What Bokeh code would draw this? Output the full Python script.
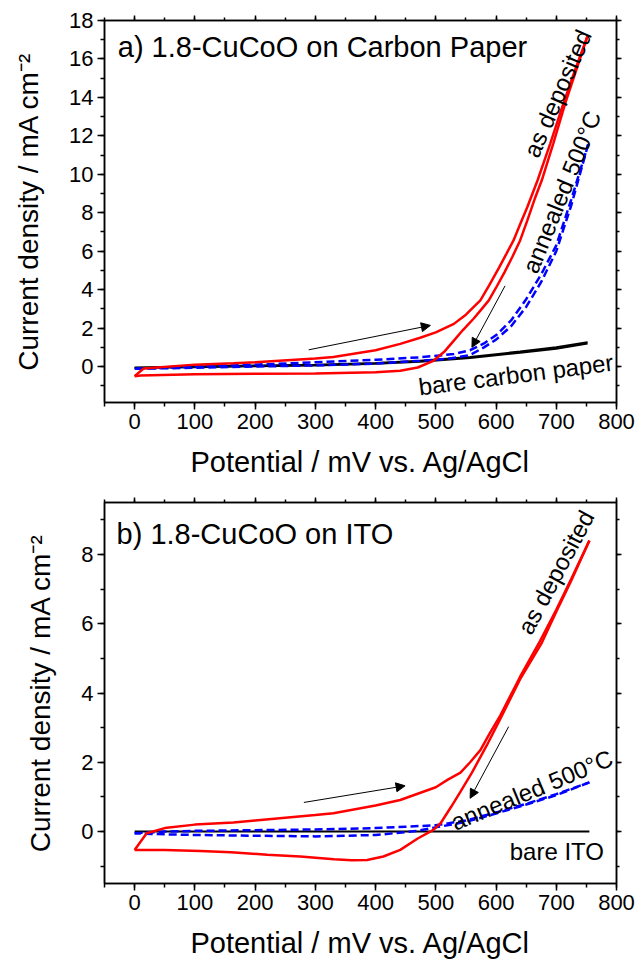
from bokeh.plotting import figure
from bokeh.models import Range1d, LinearAxis, SingleIntervalTicker, Arrow, NormalHead
from bokeh.layouts import column
from bokeh.embed import file_html
from bokeh.resources import INLINE
from bokeh.core.properties import value
import math

FONT = "Liberation Sans"

# ---------------- data: panel a (carbon paper) ----------------
a_red_fwd_x = [0, 15, 100, 164, 200, 300, 330, 400, 441, 474, 500, 530, 550, 574, 590, 605, 617, 629, 640, 652, 669, 690, 712, 732, 752]
a_red_fwd_y = [-0.5, -0.1, 0.1, 0.17, 0.22, 0.42, 0.5, 0.85, 1.18, 1.5, 1.78, 2.22, 2.7, 3.44, 4.3, 5.15, 5.85, 6.56, 7.4, 8.3, 9.69, 11.6, 13.7, 15.5, 17.2]
a_red_rev_x = [752, 734, 715, 695, 676, 664, 652, 640, 627, 614, 600, 588, 575, 563, 545, 530, 515, 496, 470, 441, 400, 300, 200, 100, 10, 0]
a_red_rev_y = [17.2, 15.5, 13.7, 11.6, 9.69, 8.7, 7.6, 6.56, 5.7, 4.9, 4.1, 3.44, 2.95, 2.5, 1.9, 1.35, 0.8, 0.3, -0.05, -0.22, -0.3, -0.36, -0.38, -0.4, -0.47, -0.5]

a_blue_fwd_x = [0, 100, 200, 300, 400, 474, 530, 557, 580, 601, 625, 650, 675, 700, 725, 753]
a_blue_fwd_y = [-0.12, 0.0, 0.1, 0.22, 0.35, 0.48, 0.65, 0.85, 1.2, 1.65, 2.4, 3.5, 4.8, 6.3, 8.7, 11.56]
a_blue_rev_x = [753, 725, 700, 675, 650, 625, 600, 580, 557, 520, 474, 400, 300, 200, 100, 0]
a_blue_rev_y = [11.56, 8.4, 6.0, 4.4, 3.1, 2.1, 1.4, 1.0, 0.6, 0.4, 0.3, 0.15, 0.06, 0.0, -0.06, -0.12]

a_black_fwd_x = [0, 100, 200, 300, 400, 474, 557, 640, 700, 752]
a_black_fwd_y = [-0.05, 0.0, 0.05, 0.1, 0.18, 0.3, 0.5, 0.78, 1.0, 1.27]
a_black_rev_x = [752, 700, 640, 557, 474, 400, 300, 200, 100, 0]
a_black_rev_y = [1.2, 0.93, 0.72, 0.45, 0.25, 0.14, 0.06, 0.02, -0.03, -0.08]

# ---------------- data: panel b (ITO) ----------------
b_red_fwd_x = [0, 20, 50, 100, 164, 200, 300, 330, 400, 441, 500, 520, 541, 557, 574, 590, 607, 640, 673, 700, 725, 755]
b_red_fwd_y = [-0.53, -0.05, 0.1, 0.2, 0.26, 0.32, 0.48, 0.53, 0.75, 0.91, 1.28, 1.5, 1.7, 2.0, 2.35, 2.85, 3.35, 4.47, 5.5, 6.4, 7.3, 8.4]
b_red_rev_x = [755, 725, 700, 676, 640, 607, 585, 560, 541, 525, 508, 496, 470, 441, 413, 386, 360, 331, 275, 220, 160, 109, 50, 0]
b_red_rev_y = [8.4, 7.25, 6.35, 5.45, 4.4, 3.25, 2.5, 1.7, 1.15, 0.7, 0.24, 0.05, -0.2, -0.53, -0.72, -0.82, -0.83, -0.8, -0.72, -0.67, -0.6, -0.56, -0.53, -0.53]

b_blue_fwd_x = [0, 50, 100, 200, 300, 400, 450, 500, 550, 600, 650, 700, 755]
b_blue_fwd_y = [-0.05, 0.0, 0.02, 0.04, 0.06, 0.1, 0.14, 0.18, 0.32, 0.55, 0.8, 1.08, 1.42]
b_blue_rev_x = [755, 700, 650, 600, 550, 500, 470, 430, 400, 300, 200, 100, 50, 0]
b_blue_rev_y = [1.42, 1.05, 0.78, 0.52, 0.28, 0.12, 0.02, -0.05, -0.1, -0.14, -0.12, -0.1, -0.08, -0.05]

b_black_x = [0, 755]
b_black_y = [0.0, 0.0]

# arrows (start x, start y, end x, end y)
a_arrows = [(289, 0.87, 491, 2.14), (615, 4.2, 560, 1.0)]
b_arrows = [(281, 0.84, 449, 1.32), (621, 3.03, 557, 0.96)]

X_TITLE = "Potential / mV vs. Ag/AgCl"
Y_TITLE = "Current density / mA cm\u207b\u00b2"


def make_fig(y0, y1, top_border, bottom_border, frame_h):
    p = figure(frame_width=512, frame_height=frame_h,
               x_range=Range1d(-50, 800), y_range=Range1d(y0, y1),
               output_backend="svg", toolbar_location=None,
               min_border_left=104, min_border_right=20,
               min_border_top=top_border, min_border_bottom=bottom_border,
               x_axis_type=None, y_axis_type=None)
    p.grid.visible = False
    p.outline_line_color = "black"
    p.outline_line_width = 1.5
    p.background_fill_color = "white"
    p.border_fill_color = "white"

    xt = SingleIntervalTicker(interval=100, num_minor_ticks=2)
    yt = SingleIntervalTicker(interval=2, num_minor_ticks=2)
    xa = LinearAxis(ticker=xt, axis_label=X_TITLE)
    ya = LinearAxis(ticker=yt, axis_label=Y_TITLE)
    xa2 = LinearAxis(ticker=xt)
    ya2 = LinearAxis(ticker=yt)
    for ax in (xa, ya, xa2, ya2):
        ax.axis_line_color = "black"
        ax.axis_line_width = 1.5
        ax.major_tick_line_width = 1.5
        ax.minor_tick_line_width = 1.5
        ax.major_tick_out = 7
        ax.major_tick_in = 0
        ax.minor_tick_out = 4
        ax.minor_tick_in = 0
        ax.major_label_text_font = FONT
        ax.major_label_text_font_size = "22px"
        ax.major_label_text_color = "black"
        ax.axis_label_text_font = FONT
        ax.axis_label_text_font_style = "normal"
        ax.axis_label_text_color = "black"
    xa.axis_label_text_font_size = "29px"
    ya.axis_label_text_font_size = "28px"
    for ax in (xa2, ya2):
        ax.major_label_text_font_size = "1px"
        ax.major_label_text_color = None
        ax.major_label_standoff = 0
        ax.major_tick_out = 5
        ax.minor_tick_out = 3
    xa.major_label_standoff = 4
    ya.major_label_standoff = 4
    xa.axis_label_standoff = 14
    ya.axis_label_standoff = 22
    p.add_layout(xa, "below")
    p.add_layout(ya, "left")
    p.add_layout(xa2, "above")
    p.add_layout(ya2, "right")
    return p


def txt(p, x, y, s, angle=0.0, align="center", size="24px"):
    p.text(x=[x], y=[y], text=[s], angle=angle, text_font=value(FONT),
           text_font_size=size, text_align=align, text_baseline="middle",
           text_color="black")


def arrows(p, lst):
    for (xs, ys, xe, ye) in lst:
        p.add_layout(Arrow(end=NormalHead(size=9, fill_color="black", line_color="black", line_width=1),
                           x_start=xs, y_start=ys, x_end=xe, y_end=ye,
                           line_color="black", line_width=1))


deg = math.pi / 180

# ---------- panel a ----------
p1 = make_fig(-1.87, 18, 20, 80, 382)
p1.line(a_black_fwd_x, a_black_fwd_y, line_color="black", line_width=2)
p1.line(a_black_rev_x, a_black_rev_y, line_color="black", line_width=2)
p1.line(a_blue_fwd_x, a_blue_fwd_y, line_color="#0000ff", line_width=2.5, line_dash="8 4")
p1.line(a_blue_rev_x, a_blue_rev_y, line_color="#0000ff", line_width=2.5, line_dash="8 4")
p1.line(a_red_fwd_x, a_red_fwd_y, line_color="#ff0000", line_width=2.5)
p1.line(a_red_rev_x, a_red_rev_y, line_color="#ff0000", line_width=2.5)
arrows(p1, a_arrows)
txt(p1, -28, 16.6, "a) 1.8-CuCoO on Carbon Paper", 0.0, "left", "29px")
txt(p1, 702, 14.2, "as deposited", 66.5 * deg)
txt(p1, 709, 9.08, "annealed 500\u00b0C", 68 * deg)
txt(p1, 633, -0.42, "bare carbon paper", 7.3 * deg)

# ---------- panel b ----------
p2 = make_fig(-1.5, 9.5, 20, 82, 381)
p2.line(b_black_x, b_black_y, line_color="black", line_width=2)
p2.line(b_blue_fwd_x, b_blue_fwd_y, line_color="#0000ff", line_width=2.5, line_dash="8 4")
p2.line(b_blue_rev_x, b_blue_rev_y, line_color="#0000ff", line_width=2.5, line_dash="8 4")
p2.line(b_red_fwd_x, b_red_fwd_y, line_color="#ff0000", line_width=2.5)
p2.line(b_red_rev_x, b_red_rev_y, line_color="#ff0000", line_width=2.5)
arrows(p2, b_arrows)
txt(p2, -30, 8.6, "b) 1.8-CuCoO on ITO", 0.0, "left", "29px")
txt(p2, 699.5, 7.49, "as deposited", 62 * deg)
txt(p2, 659.5, 1.2, "annealed 500\u00b0C", 22.6 * deg)
txt(p2, 701, -0.59, "bare ITO", 0.0)

layout = column(p1, p2, spacing=0)
open("out.html", "w").write(file_html(layout, INLINE))
